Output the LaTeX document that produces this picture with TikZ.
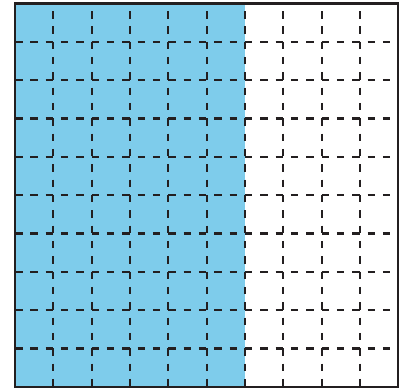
\documentclass[tikz,border=0pt]{standalone}
\definecolor{skyfill}{RGB}{126,204,235}
\definecolor{ink}{RGB}{35,31,32}
\begin{document}
\begin{tikzpicture}[x=1pt,y=-1pt,
  border/.style={draw=ink,line width=2.3pt},
  gridv/.style={draw=ink,line width=2.1pt,dash pattern=on 7.5pt off 7.83pt,dash phase=7.83pt},
  gridh/.style={draw=ink,line width=2.1pt,dash pattern=on 7.5pt off 7.83pt}]
\useasboundingbox (0,0) rectangle (405,391);
\def\cw{38.33}
\coordinate (tl) at (15,3.5);
\coordinate (br) at (398.3,386.8);
\fill[skyfill] (tl) rectangle (245,386.8);
\foreach \i in {1,...,9}{
  \pgfmathsetmacro{\xx}{15+\i*\cw}
  \pgfmathsetmacro{\yy}{3.5+\i*\cw}
  \draw[gridv] (\xx,3.5) -- (\xx,386.8);
  \draw[gridh] (15,\yy) -- (398.3,\yy);
}
\draw[border] (tl) rectangle (br);
\end{tikzpicture}
\end{document}
